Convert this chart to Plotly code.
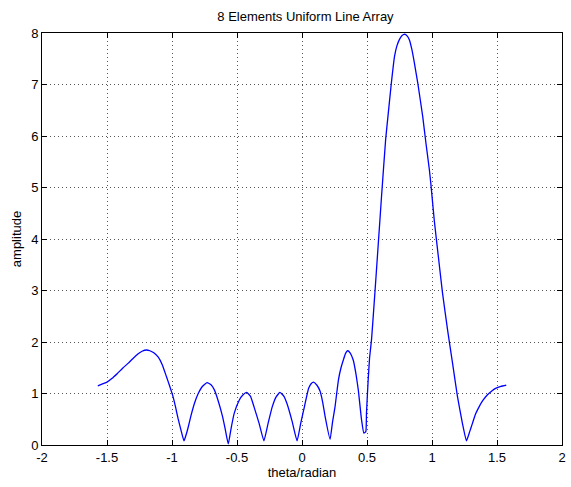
import plotly.graph_objects as go

theta = [-1.571, -1.53, -1.50, -1.463, -1.42, -1.38, -1.336, -1.30, -1.26, -1.23,
         -1.196, -1.17, -1.14, -1.107, -1.075, -1.043, -1.02, -0.992, -0.972, -0.954,
         -0.93, -0.908, -0.895, -0.878, -0.855, -0.827, -0.80, -0.765, -0.730, -0.70,
         -0.674, -0.645, -0.611, -0.59, -0.567, -0.545, -0.521, -0.483, -0.455, -0.425,
         -0.395, -0.369, -0.33, -0.293, -0.26, -0.229, -0.20, -0.17, -0.14, -0.115,
         -0.075, -0.038, -0.01, 0.013, 0.051, 0.07, 0.089, 0.115, 0.14, 0.16,
         0.178, 0.216, 0.235, 0.254, 0.28, 0.30, 0.318, 0.335, 0.351, 0.37,
         0.394, 0.415, 0.433, 0.458, 0.476, 0.491, 0.496, 0.509, 0.52, 0.535,
         0.555, 0.588, 0.611, 0.644, 0.662, 0.687, 0.712, 0.73, 0.751, 0.77,
         0.789, 0.81, 0.827, 0.845, 0.865, 0.891, 0.929, 0.954, 0.98, 0.992,
         1.018, 1.056, 1.081, 1.12, 1.158, 1.196, 1.234, 1.265, 1.29, 1.311,
         1.335, 1.362, 1.39, 1.425, 1.46, 1.489, 1.53, 1.571]
amplitude = [1.15, 1.19, 1.22, 1.29, 1.39, 1.49, 1.59, 1.68, 1.77, 1.82,
             1.845, 1.83, 1.79, 1.71, 1.56, 1.33, 1.16, 0.94, 0.73, 0.52,
             0.28, 0.08, 0.17, 0.32, 0.56, 0.81, 0.99, 1.14, 1.21, 1.17,
             1.07, 0.86, 0.55, 0.30, 0.02, 0.33, 0.62, 0.87, 0.97, 1.02,
             0.94, 0.74, 0.42, 0.08, 0.43, 0.74, 0.93, 1.02, 0.95, 0.80,
             0.45, 0.08, 0.42, 0.68, 1.10, 1.19, 1.22, 1.16, 1.04, 0.82,
             0.55, 0.11, 0.45, 0.74, 1.26, 1.50, 1.65, 1.78, 1.83, 1.79,
             1.65, 1.38, 1.07, 0.49, 0.23, 0.26, 0.62, 1.26, 1.70, 2.05,
             2.75, 3.95, 4.8, 5.95, 6.4, 7.02, 7.55, 7.75, 7.88, 7.95,
             7.98, 7.94, 7.86, 7.68, 7.41, 7.02, 6.37, 5.85, 5.34, 5.05,
             4.35, 3.5, 2.95, 2.23, 1.59, 0.94, 0.42, 0.08, 0.26, 0.42,
             0.60, 0.74, 0.86, 0.97, 1.05, 1.10, 1.14, 1.16]

x_ticks = [-2, -1.5, -1, -0.5, 0, 0.5, 1, 1.5, 2]
x_tick_text = ["-2", "-1.5", "-1", "-0.5", "0", "0.5", "1", "1.5", "2"]
y_ticks = [0, 1, 2, 3, 4, 5, 6, 7, 8]

font = "Liberation Sans, Arial, sans-serif"

fig = go.Figure()
fig.add_trace(go.Scatter(x=theta, y=amplitude, mode="lines",
                         line=dict(color="#0000ff", width=1.3, shape="spline", smoothing=0.4),
                         showlegend=False, cliponaxis=True))

axis_common = dict(
    showline=True, linecolor="black", linewidth=1, mirror="ticks",
    ticks="inside", ticklen=5, tickcolor="black", tickwidth=1,
    showgrid=True, gridcolor="#555555", griddash="1px,3px", gridwidth=1,
    zeroline=False, tickfont=dict(family=font, size=13, color="black"),
)

fig.update_layout(
    width=571, height=487,
    margin=dict(l=42, r=5, t=33, b=42),
    paper_bgcolor="white", plot_bgcolor="white",
    title=dict(text="8 Elements Uniform Line Array", x=0.535, xanchor="center",
               y=0.967, yanchor="middle",
               font=dict(family=font, size=13, color="black")),
    xaxis=dict(range=[-2, 2], tickvals=x_ticks, ticktext=x_tick_text,
               title=dict(text="theta/radian", standoff=4,
                          font=dict(family=font, size=13, color="black")),
               **axis_common),
    yaxis=dict(range=[0, 8], tickvals=y_ticks,
               title=dict(text="amplitude", standoff=6,
                          font=dict(family=font, size=13, color="black")),
               **axis_common),
)

fig.write_html("out.html")
